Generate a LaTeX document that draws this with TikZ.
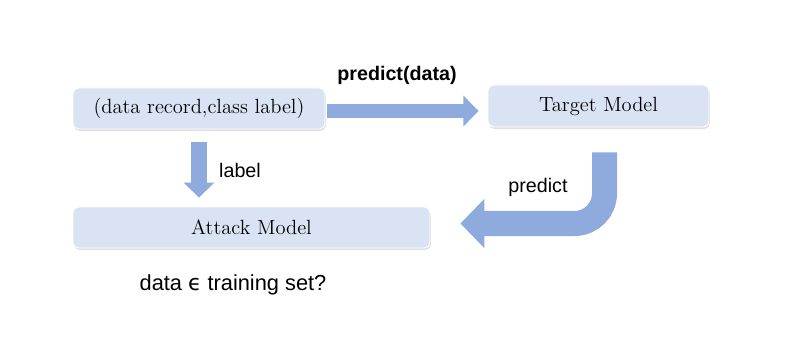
\documentclass[tikz,border=0pt]{standalone}
\usepackage{fontspec}
\setsansfont{Liberation Sans}
\newfontfamily\symfont{DejaVu Sans}
\usetikzlibrary{arrows.meta,shadows}
\definecolor{boxfill}{HTML}{DAE3F3}
\definecolor{arrowblue}{HTML}{8FAADC}
\tikzset{
  modelbox/.style={rounded corners=4pt, fill=boxfill, draw=white, line width=0.6pt,
    drop shadow={shadow xshift=0.02cm, shadow yshift=-0.05cm, opacity=0.25, fill=gray},
    font=\fontsize{14.6}{17}\selectfont},
  bigarrow/.style={draw=arrowblue, line width=0.4cm, -{Triangle[width=0.75cm, length=0.38cm]}},
  flowtext/.style={font=\sffamily\fontsize{14}{16}\selectfont}
}
\begin{document}
\begin{tikzpicture}[x=0.025cm, y=-0.025cm]
\useasboundingbox (0,0) rectangle (789,341);
%----------------- boxes -----------------
\node[modelbox, minimum width=252*0.025cm, minimum height=41*0.025cm] (rec) at (199,108.5) {(data record,class label)};
\node[modelbox, minimum width=221*0.025cm, minimum height=42*0.025cm] (tgt) at (598.5,106) {Target Model};
\node[modelbox, minimum width=357*0.025cm, minimum height=41*0.025cm] (atk) at (251.5,227.5) {Attack Model};
%----------------- arrows -----------------
% record to target
\draw[bigarrow, line width=0.325cm, shorten <=0.05cm, shorten >=0.225cm] (rec.east |- 0,111) -- (tgt.west |- 0,111);
% record to attack
\draw[bigarrow, line width=0.4cm, -{Triangle[width=0.75cm, length=0.375cm]}, shorten <=0.325cm, shorten >=0.225cm] (rec.south) -- (rec.south |- atk.north);
% target back to attack
\draw[bigarrow, line width=0.625cm, rounded corners=0.75cm, -{Triangle[width=1.2cm, length=0.6cm]}, shorten <=0.625cm, shorten >=0.75cm] ([xshift=0.15cm]tgt.south) |- ([yshift=0.1cm]atk.east);
%----------------- labels -----------------
\node[flowtext, font=\sffamily\bfseries\fontsize{14}{16}\selectfont] (lpd) at (397,75) {predict(data)};
\node[flowtext] (llab) at (240,170) {label};
\node[flowtext] (lpred) at (538,187) {predict};
\node[flowtext, font=\sffamily\fontsize{15.5}{18}\selectfont] (lq) at (233,285) {data {\symfont ϵ} training set?};
\end{tikzpicture}
\end{document}
